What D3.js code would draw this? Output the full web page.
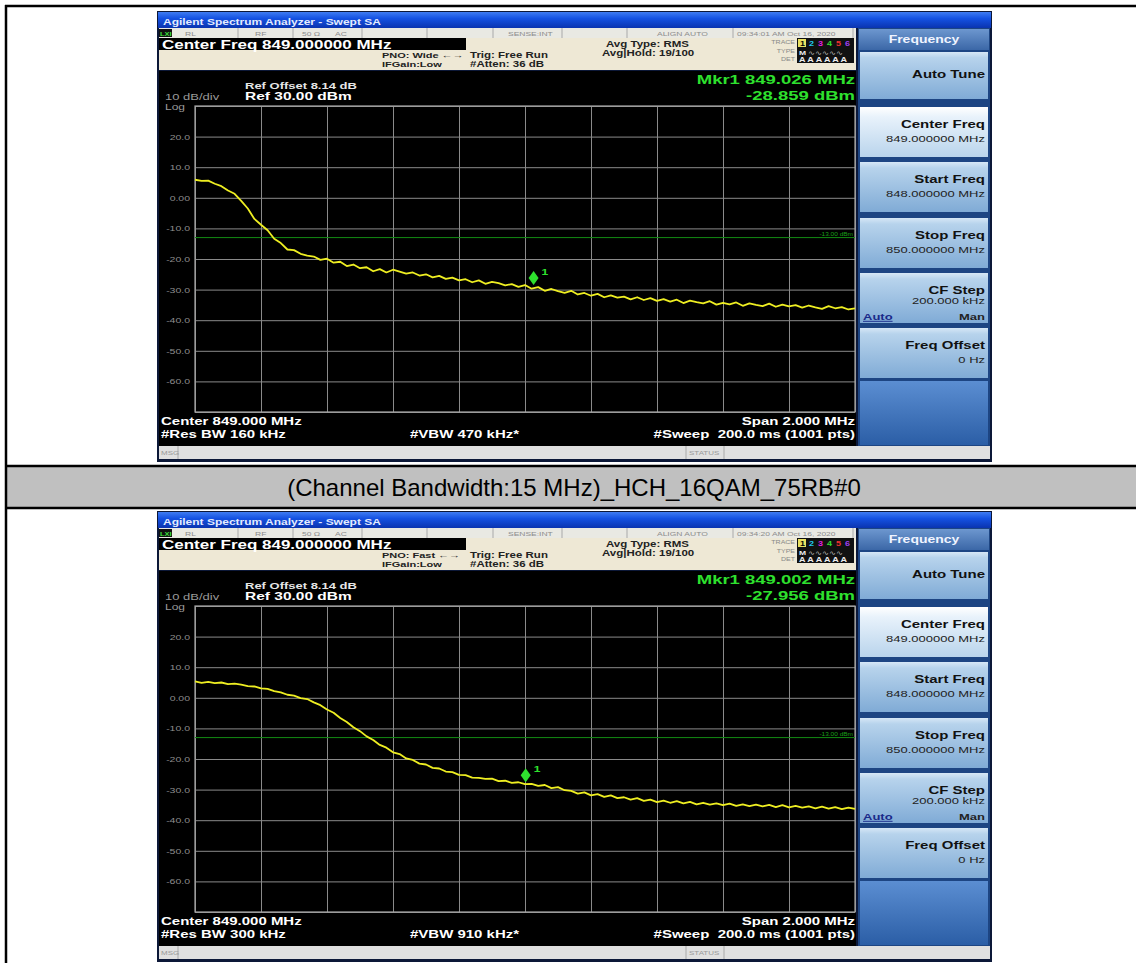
<!doctype html>
<html>
<head>
    <meta charset="utf-8">
    <title>Band edge - HCH 16QAM 75RB</title>
    <script src="https://d3js.org/d3.v7.min.js"></script>
    <style>
        body { margin: 0; background: #fff; }
        svg text { font-family: "Liberation Sans", Arial, sans-serif; }
    </style>
</head>
<body>
<script>
// sweep 848 - 850 MHz, one value every 20 kHz (dBm)
const freqStart = 848.0;
const freqStop = 850.0;
const freqStep = 0.02;

const trace1 = [
    5.9, 5.5, 5.6, 4.6, 3.8, 2.4, 1.3, -1.0, -3.5, -6.9,
    -8.8, -10.6, -13.4, -14.8, -16.9, -17.1, -18.3, -18.9, -19.2, -20.3,
    -19.9, -21.2, -20.9, -22.3, -21.8, -23.0, -22.7, -24.0, -23.3, -24.4,
    -23.5, -24.1, -24.8, -24.4, -25.4, -25.0, -26.0, -25.5, -26.5, -26.1,
    -27.0, -26.6, -27.6, -27.0, -28.1, -27.5, -27.9, -28.6, -28.2, -29.1,
    -28.5, -29.7, -29.2, -30.4, -29.8, -30.5, -31.1, -30.4, -31.6, -31.1,
    -32.0, -31.4, -32.5, -31.9, -32.6, -32.3, -33.2, -32.5, -33.4, -32.8,
    -33.7, -33.1, -33.9, -33.3, -34.4, -33.6, -34.1, -34.5, -33.8, -34.9,
    -34.3, -34.8, -34.2, -35.3, -34.5, -35.0, -35.4, -34.6, -35.6, -34.9,
    -35.5, -35.1, -35.9, -35.2, -35.8, -36.3, -35.4, -36.1, -35.7, -36.5, -36.1
];
const trace2 = [
    5.4, 4.9, 5.2, 4.8, 5.0, 4.5, 4.6, 4.3, 3.8, 3.7,
    3.1, 2.9, 2.2, 1.8, 1.0, 0.7, -0.1, -0.4, -1.5, -2.4,
    -3.8, -4.9, -6.6, -7.9, -9.6, -10.9, -12.6, -13.8, -15.4, -16.3,
    -17.8, -18.4, -19.8, -20.3, -21.5, -21.8, -22.9, -23.1, -24.1, -24.3,
    -25.2, -25.3, -26.1, -26.2, -26.5, -26.4, -27.2, -27.1, -27.8, -27.6,
    -28.2, -28.1, -28.8, -28.5, -29.5, -29.2, -30.2, -30.4, -31.3, -30.9,
    -31.9, -31.5, -32.4, -31.9, -32.8, -32.5, -33.3, -32.8, -33.7, -33.3,
    -34.1, -33.6, -34.3, -33.8, -34.5, -34.0, -34.8, -34.3, -34.9, -34.5,
    -35.1, -34.6, -35.3, -34.8, -35.4, -34.9, -35.5, -35.0, -35.7, -35.1,
    -35.8, -35.3, -35.9, -35.5, -36.1, -35.6, -36.2, -35.7, -36.4, -35.9, -36.3
];

const levelTicks = [30, 20, 10, 0, -10, -20, -30, -40, -50, -60, -70];
const levelLabels = ["", "20.0", "10.0", "0.00", "-10.0", "-20.0", "-30.0", "-40.0", "-50.0", "-60.0", ""];
const freqTicks = [848.0, 848.2, 848.4, 848.6, 848.8, 849.0, 849.2, 849.4, 849.6, 849.8, 850.0];
const limitLevel = -13;
const limitLabel = "-13.00 dBm";

const markerFreqs = [849.026, 849.002];
const markerLevels = [-28.859, -27.956];
const markerFreqText = ["Mkr1 849.026 MHz", "Mkr1 849.002 MHz"];
const markerLevelText = ["-28.859 dBm", "-27.956 dBm"];
const clockText = ["09:34:01 AM Oct 16, 2020", "09:34:20 AM Oct 16, 2020"];
const pnoText = ["PNO: Wide", "PNO: Fast"];
const rbwText = ["#Res BW 160 kHz", "#Res BW 300 kHz"];
const vbwText = ["#VBW 470 kHz*", "#VBW 910 kHz*"];
const screenOffsets = [0, 500];

const caption = "(Channel Bandwidth:15 MHz)_HCH_16QAM_75RB#0";
const softkeyTitles = ["Auto Tune", "Center Freq", "Start Freq", "Stop Freq", "CF Step", "Freq Offset"];
const softkeyValues = ["", "849.000000 MHz", "848.000000 MHz", "850.000000 MHz", "200.000 kHz", "0 Hz"];

const W = 1136, H = 963;
const SY = 0.72; // the screenshots were squashed vertically in the report
const svg = d3.select("body").append("svg").attr("width", W).attr("height", H);
const defs = svg.append("defs");

function grad(id, stops) {
    const lg = defs.append("linearGradient").attr("id", id)
        .attr("x1", 0).attr("y1", 0).attr("x2", 0).attr("y2", 1);
    stops.forEach(s => lg.append("stop").attr("offset", s[0]).attr("stop-color", s[1]));
}
grad("titleBar", [[0, "#3f7cf2"], [0.4, "#1552e2"], [1, "#0a34b0"]]);
grad("key", [[0, "#d6e7f6"], [0.12, "#b7d3ec"], [1, "#80abd6"]]);
grad("keyOn", [[0, "#ffffff"], [0.2, "#e8f2fb"], [1, "#b9d4ec"]]);
grad("keyHead", [[0, "#6d97cf"], [1, "#3b67a7"]]);
grad("panelLow", [[0, "#5b8ed2"], [1, "#2b5ea6"]]);

// table: caption row and borders
svg.append("rect").attr("x", 6).attr("y", 467).attr("width", W - 6).attr("height", 41).attr("fill", "#c0c0c0");
[[5, 6, W, 6], [5, 466, W, 466], [5, 508, W, 508], [6, 5, 6, H]].forEach(l => {
    svg.append("line").attr("x1", l[0]).attr("y1", l[1]).attr("x2", l[2]).attr("y2", l[3])
        .attr("stroke", "#000").attr("stroke-width", 2.5);
});
svg.append("text").attr("x", 574).attr("y", 496).attr("text-anchor", "middle")
    .attr("font-size", 24).attr("fill", "#000").text(caption);

// text squashed like the screenshot; (x, y) is the baseline
function txt(g, x, y, s, size, fill, opts) {
    opts = opts || {};
    const t = g.append("text").attr("transform", `translate(${x},${y}) scale(1,${SY})`)
        .attr("font-size", size).attr("fill", fill).text(s);
    if (opts.bold) t.attr("font-weight", "bold");
    if (opts.anchor) t.attr("text-anchor", opts.anchor);
    return t;
}

function drawScreen(k) {
    const g = svg.append("g").attr("transform", `translate(0,${screenOffsets[k]})`);
    const trace = k === 0 ? trace1 : trace2;

    // window frame + title bar
    g.append("rect").attr("x", 157).attr("y", 11).attr("width", 835).attr("height", 451).attr("fill", "#0c1838");
    g.append("rect").attr("x", 158).attr("y", 12).attr("width", 833).attr("height", 16).attr("fill", "url(#titleBar)");
    txt(g, 163, 24.5, "Agilent Spectrum Analyzer - Swept SA", 12, "#e4ecff", { bold: true });

    // status row
    g.append("rect").attr("x", 159).attr("y", 28).attr("width", 697).attr("height", 10).attr("fill", "#e9e9e3");
    g.append("rect").attr("x", 159).attr("y", 29).attr("width", 13).attr("height", 8).attr("fill", "#111");
    txt(g, 160, 35.5, "LXI", 7.5, "#3ce03c", { bold: true });
    [238, 293, 362, 427, 493, 562, 627, 733, 853].forEach(x => {
        g.append("line").attr("x1", x).attr("x2", x).attr("y1", 28).attr("y2", 38).attr("stroke", "#a9a9a9");
    });
    [["RL", 185], ["RF", 255], ["50 \u03a9", 302], ["AC", 335], ["SENSE:INT", 508], ["ALIGN AUTO", 657], [clockText[k], 737]]
        .forEach(d => txt(g, d[1], 35.5, d[0], 8.5, "#8c8c8c"));

    // settings area
    g.append("rect").attr("x", 159).attr("y", 38).attr("width", 697).attr("height", 32).attr("fill", "#eee8d5");
    g.append("rect").attr("x", 159).attr("y", 38).attr("width", 307).attr("height", 12).attr("fill", "#000");
    txt(g, 162, 48.5, "Center Freq 849.000000 MHz", 17, "#fff", { bold: true });
    txt(g, 382, 58, pnoText[k] + " \u2190\u2192", 11, "#222", { bold: true });
    txt(g, 382, 67, "IFGain:Low", 11, "#222", { bold: true });
    txt(g, 470, 57.5, "Trig: Free Run", 11.5, "#222", { bold: true });
    txt(g, 470, 66.5, "#Atten: 36 dB", 11.5, "#222", { bold: true });
    txt(g, 606, 46.5, "Avg Type: RMS", 11.5, "#222", { bold: true });
    txt(g, 602, 55.5, "Avg|Hold: 19/100", 11.5, "#222", { bold: true });
    // trace / type / det box
    txt(g, 795, 44, "TRACE", 7, "#888", { anchor: "end" });
    txt(g, 795, 52.5, "TYPE", 7, "#888", { anchor: "end" });
    txt(g, 795, 61, "DET", 7, "#888", { anchor: "end" });
    g.append("rect").attr("x", 797).attr("y", 38).attr("width", 57).attr("height", 25).attr("fill", "#111");
    ["#f0f020", "#20c8f0", "#e020e0", "#30e030", "#f03030", "#a040f0"].forEach((c, i) => {
        if (i === 0) g.append("rect").attr("x", 798).attr("y", 39).attr("width", 8).attr("height", 8).attr("fill", "#e8e060");
        txt(g, 800 + i * 9, 46, String(i + 1), 9, i === 0 ? "#000" : c, { bold: true });
    });
    txt(g, 799, 54.5, "M", 8.5, "#eee", { bold: true });
    txt(g, 808, 54.5, "\u223f\u223f\u223f\u223f\u223f", 8, "#bbb");
    txt(g, 799, 62, "A A A A A A", 9, "#eee", { bold: true });

    // screen
    g.append("rect").attr("x", 159).attr("y", 71).attr("width", 697).attr("height", 375).attr("fill", "#000");
    txt(g, 245, 88.5, "Ref Offset 8.14 dB", 13, "#e6e6e6", { bold: true });
    txt(g, 245, 100, "Ref 30.00 dBm", 15.5, "#fff", { bold: true });
    txt(g, 165, 99.5, "10 dB/div", 13, "#9a9a9a");
    txt(g, 165, 110, "Log", 12, "#9a9a9a");
    txt(g, 855, 84, markerFreqText[k], 18.5, "#2ee02e", { bold: true, anchor: "end" });
    txt(g, 855, 99.5, markerLevelText[k], 18.5, "#2ee02e", { bold: true, anchor: "end" });

    const x = d3.scaleLinear().domain([freqStart, freqStop]).range([195, 855]);
    const y = d3.scaleLinear().domain([-70, 30]).range([412, 106]);
    const pw = x.range()[1] - x.range()[0];
    const ph = y.range()[0] - y.range()[1];

    g.append("g").attr("transform", `translate(${x.range()[0]},0)`)
        .call(d3.axisLeft(y).tickValues(levelTicks).tickSize(-pw).tickPadding(5)
            .tickFormat((d, i) => levelLabels[i]))
        .call(a => a.select(".domain").remove())
        .call(a => a.selectAll("line").attr("stroke", "#8a8a8a"))
        .call(a => a.selectAll("text").attr("fill", "#8e8e8e").attr("font-size", 10.5)
            .attr("transform", `scale(1,${SY})`)
            .attr("font-family", "'Liberation Sans', Arial, sans-serif"));
    g.append("g").attr("transform", `translate(0,${y.range()[0]})`)
        .call(d3.axisBottom(x).tickValues(freqTicks).tickSize(-ph).tickFormat(""))
        .call(a => a.select(".domain").remove())
        .call(a => a.selectAll("line").attr("stroke", "#8a8a8a"));
    g.append("rect").attr("x", x.range()[0]).attr("y", y.range()[1]).attr("width", pw).attr("height", ph)
        .attr("fill", "none").attr("stroke", "#a8a8a8").attr("stroke-width", 1.2);

    // limit line
    g.append("line").attr("x1", x.range()[0]).attr("x2", x.range()[1])
        .attr("y1", y(limitLevel)).attr("y2", y(limitLevel)).attr("stroke", "#138a13").attr("stroke-width", 1);
    txt(g, 853, y(limitLevel) - 1.5, limitLabel, 6.5, "#1aa01a", { anchor: "end" });

    // trace
    const line = d3.line().x((d, i) => x(freqStart + i * freqStep)).y(d => y(d));
    g.append("path").datum(trace).attr("d", line).attr("fill", "none")
        .attr("stroke", "#eeee22").attr("stroke-width", 1.8).attr("stroke-linejoin", "round");

    // marker 1
    const mx = x(markerFreqs[k]), my = y(markerLevels[k]) - 8;
    g.append("path").attr("d", `M${mx},${my - 7}L${mx + 5},${my}L${mx},${my + 7}L${mx - 5},${my}Z`).attr("fill", "#2ee02e");
    txt(g, mx + 8, my - 3, "1", 12, "#2ee02e", { bold: true });

    // bottom annotations
    txt(g, 161, 425, "Center 849.000 MHz", 15, "#fff", { bold: true });
    txt(g, 161, 438, rbwText[k], 15, "#fff", { bold: true });
    txt(g, 410, 438, vbwText[k], 15, "#fff", { bold: true });
    txt(g, 855, 425, "Span 2.000 MHz", 15, "#fff", { bold: true, anchor: "end" });
    txt(g, 855, 438, "#Sweep  200.0 ms (1001 pts)", 15, "#fff", { bold: true, anchor: "end" }).style("white-space", "pre");

    // msg bar
    g.append("rect").attr("x", 159).attr("y", 446).attr("width", 831).attr("height", 13).attr("fill", "#e0e0e0");
    [178, 686, 724].forEach(xx => g.append("line").attr("x1", xx).attr("x2", xx).attr("y1", 446).attr("y2", 459).attr("stroke", "#aaa"));
    txt(g, 161, 455, "MSG", 8, "#999");
    txt(g, 689, 455, "STATUS", 8, "#999");

    // softkey panel
    g.append("rect").attr("x", 858).attr("y", 28).attr("width", 132).attr("height", 418).attr("fill", "#1d4583");
    g.append("rect").attr("x", 859).attr("y", 29).attr("width", 130).attr("height", 21).attr("fill", "url(#keyHead)");
    txt(g, 924, 43, "Frequency", 14, "#f0f4ff", { bold: true, anchor: "middle" });
    const keyTops = [52, 107, 162, 218, 273, 328];
    softkeyTitles.forEach((s, i) => {
        const top = keyTops[i];
        const h = i === 0 ? 47 : 50;
        g.append("rect").attr("x", 860).attr("y", top).attr("width", 128).attr("height", h)
            .attr("fill", i === 1 ? "url(#keyOn)" : "url(#key)");
        if (!softkeyValues[i]) {
            txt(g, 985, top + 26, s, 15, "#111", { bold: true, anchor: "end" });
        } else if (s === "CF Step") {
            txt(g, 985, top + 21, s, 15, "#111", { bold: true, anchor: "end" });
            txt(g, 985, top + 30.5, softkeyValues[i], 13, "#222", { anchor: "end" });
            txt(g, 863, top + 47, "Auto", 13, "#1a2a8a", { bold: true }).attr("text-decoration", "underline");
            txt(g, 985, top + 47, "Man", 13, "#222", { bold: true, anchor: "end" });
        } else {
            txt(g, 985, top + 21, s, 15, "#111", { bold: true, anchor: "end" });
            txt(g, 985, top + 35, softkeyValues[i], 13, "#222", { anchor: "end" });
        }
    });
    g.append("rect").attr("x", 860).attr("y", 381).attr("width", 128).attr("height", 64).attr("fill", "url(#panelLow)");
}

drawScreen(0);
drawScreen(1);
</script>
</body>
</html>
